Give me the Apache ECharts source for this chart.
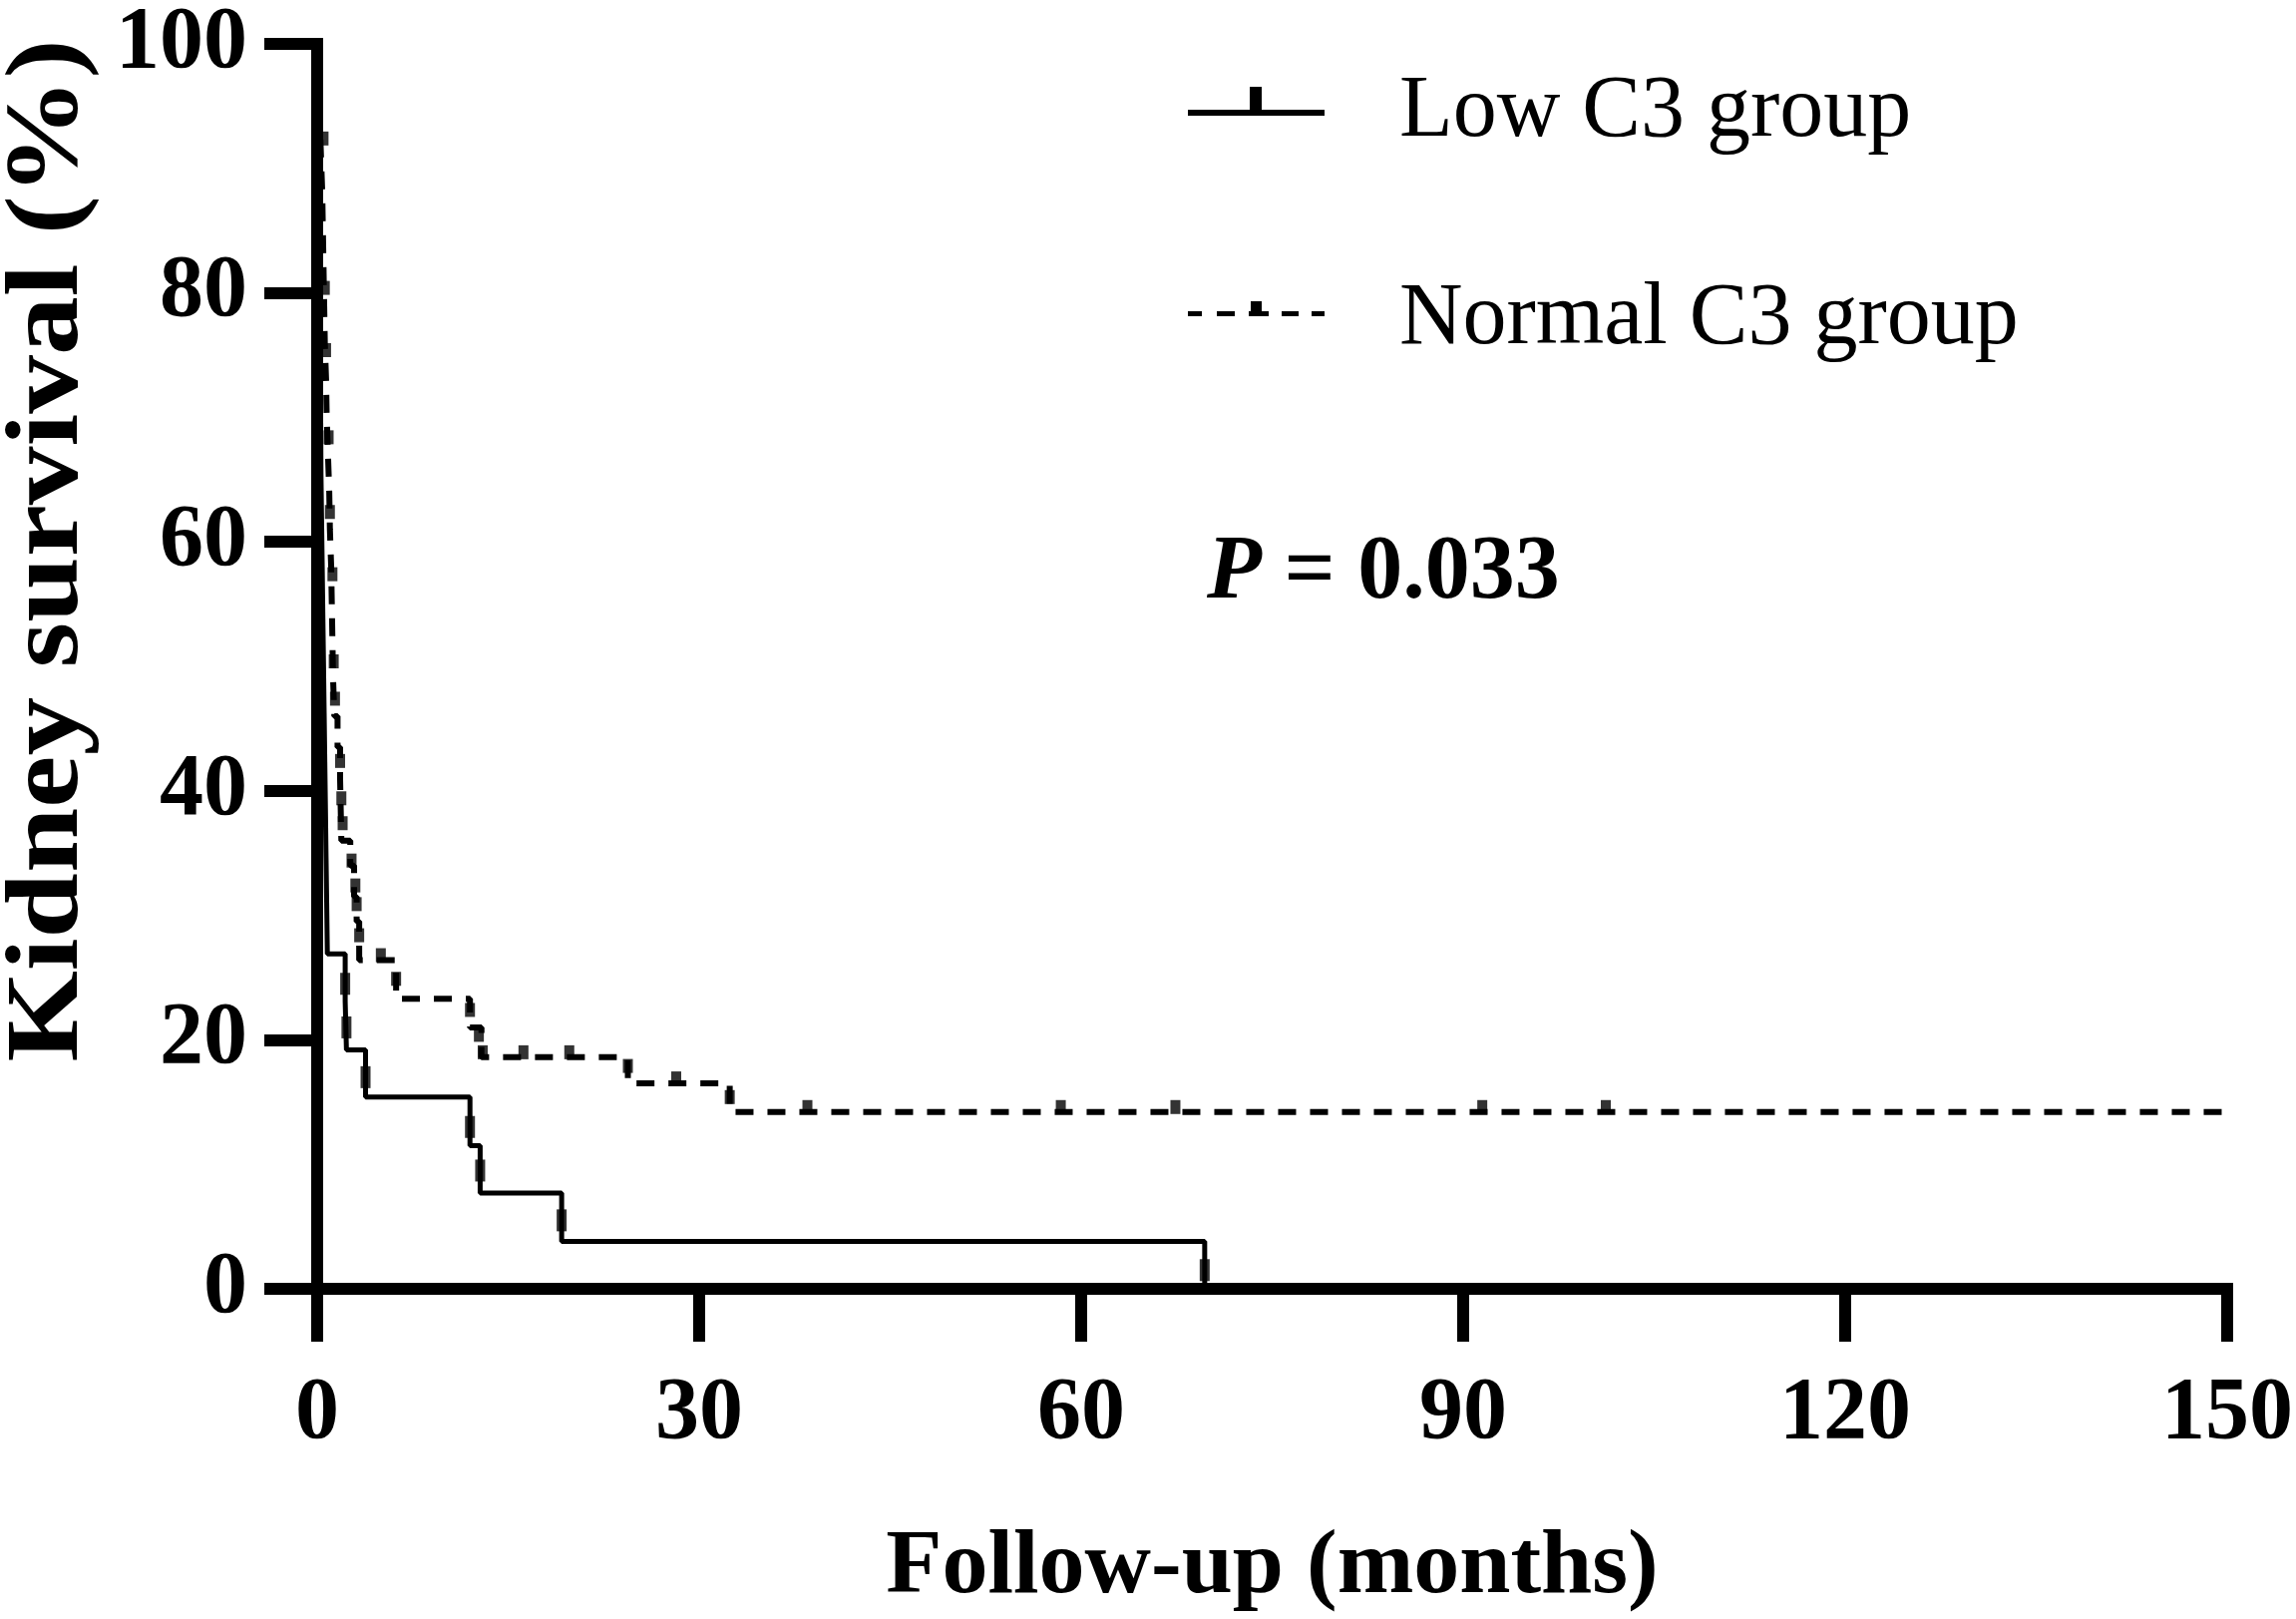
<!DOCTYPE html>
<html>
<head>
<meta charset="utf-8">
<title>Kidney survival</title>
<script src="https://cdn.jsdelivr.net/npm/echarts@6.0.0/dist/echarts.min.js"></script>
<style>
  html, body { margin: 0; padding: 0; background: #fff; }
  #chart { width: 2302px; height: 1623px; }
</style>
</head>
<body>
<div id="chart"></div>
<script>
// Kaplan-Meier steps (months, % surviving)
const lowTime = [0, 0.05, 0.1, 0.12, 0.15, 0.18, 0.2, 0.25, 0.28, 0.3, 0.35, 0.4, 0.45, 0.5, 0.55, 0.6, 0.65, 0.7, 0.75, 0.8, 2.2, 2.3, 3.8, 12.0, 12.8, 19.2, 69.7];
const lowSurv = [100, 96.2, 92.3, 88.5, 84.6, 80.8, 76.9, 73.1, 69.2, 65.4, 61.5, 57.7, 53.8, 50.0, 46.2, 42.3, 38.5, 34.6, 30.8, 26.9, 23.1, 19.2, 15.4, 11.5, 7.7, 3.8, 0];

const normalTime = [0, 0.1, 0.2, 0.3, 0.4, 0.45, 0.5, 0.55, 0.6, 0.7, 0.75, 0.85, 0.95, 1.0, 1.1, 1.15, 1.2, 1.25, 1.35, 1.6, 1.8, 1.85, 1.9, 2.6, 2.9, 3.1, 3.3, 6.2, 12.0, 12.9, 24.4, 32.4, 150];
const normalSurv = [100, 97, 94, 91, 88, 85, 82, 79, 76, 73, 70, 67, 64, 61, 58, 55, 52, 49, 46, 43.5, 41, 38.5, 36, 34, 31.5, 29.5, 26.4, 23.3, 21.0, 18.6, 16.5, 14.2, 14.2];

// censored observations (tick marks)
const lowCensorTime = [2.2, 2.3, 3.8, 12.0, 12.8, 19.2, 69.7];
const lowCensorSurv = [24.5, 21.0, 17.0, 13.0, 9.5, 5.5, 1.5];

const normalCensorTime = [0.5, 0.6, 0.7, 0.9, 1.0, 1.2, 1.3, 1.4, 1.8, 1.9, 2.0, 2.7, 3.0, 3.1, 3.3, 5.0, 6.2, 12.0, 12.7, 13.0, 16.2, 19.8, 24.4, 28.2, 32.4, 38.5, 58.4, 67.4, 91.5, 101.2];
const normalCensorSurv = [92, 80, 75, 68, 62, 57, 50, 47, 42, 39, 37, 34, 32, 30.5, 28, 26.4, 24.5, 22, 20, 18.6, 18.6, 18.6, 17.5, 16.5, 15, 14.2, 14.2, 14.2, 14.2, 14.2];

const groupNames = ['Low C3 group', 'Normal C3 group'];
const pText = '0.033';

const zip = (a, b) => a.map((v, i) => [v, b[i]]);
const serif = 'Liberation Serif, Times New Roman, serif';

// legend samples: line with a censor tick; a near-invisible dot below keeps the line centred
const lowIcon = 'path://M0,23h137v6h-137z M62,0h12v23h-12z M68,51.9h0.1v0.1h-0.1z';
const normalIcon = 'path://M0,23h14v5h-14z M29,23h18v5h-18z M61,23h20v5h-20z M63,13h11v10h-11z M94,23h17v5h-17z M124,23h13v5h-13z M68,50.9h0.1v0.1h-0.1z';

const chart = echarts.init(document.getElementById('chart'), null, { renderer: 'canvas' });

chart.setOption({
  backgroundColor: '#fff',
  animation: false,
  grid: { left: 318, right: 65, top: 29, bottom: 313, containLabel: false },
  title: {
    text: '{i|P}{b| = ' + pText + '}',
    left: 1205,
    top: 526,
    textStyle: {
      rich: {
        i: { fontFamily: serif, fontSize: 90, fontWeight: 'bold', fontStyle: 'italic', color: '#000' },
        b: { fontFamily: serif, fontSize: 90, fontWeight: 'bold', color: '#000' }
      }
    }
  },
  legend: {
    orient: 'vertical',
    left: 1186,
    top: 60,
    selectedMode: false,
    itemGap: 112,
    itemWidth: 137,
    itemHeight: 52,
    data: [
      { name: groupNames[0], icon: lowIcon },
      { name: groupNames[1], icon: normalIcon }
    ],
    itemStyle: { color: '#000', borderWidth: 0 },
    textStyle: { fontFamily: serif, fontSize: 88, color: '#000', lineHeight: 96, padding: [0, 0, 0, 70] }
  },
  graphic: [{
    type: 'text',
    x: 50,
    y: 552,
    rotation: Math.PI / 2,
    scaleX: 1.13,
    style: {
      text: 'Kidney survival (%)',
      font: 'bold 104px ' + serif,
      fill: '#000',
      textAlign: 'center',
      textVerticalAlign: 'middle'
    }
  }],
  xAxis: {
    type: 'value',
    min: 0,
    max: 150,
    interval: 30,
    name: 'Follow-up (months)',
    nameLocation: 'middle',
    nameGap: 234,
    nameTextStyle: { fontFamily: serif, fontSize: 92, fontWeight: 'bold', color: '#000' },
    axisLine: { show: true, lineStyle: { color: '#000', width: 12, cap: 'square' } },
    axisTick: { show: true, inside: false, length: 53, lineStyle: { color: '#000', width: 12 } },
    axisLabel: { fontFamily: serif, fontSize: 88, fontWeight: 'bold', color: '#000', margin: 82 },
    splitLine: { show: false }
  },
  yAxis: {
    type: 'value',
    min: 0,
    max: 100,
    interval: 20,
    axisLine: { show: true, lineStyle: { color: '#000', width: 12, cap: 'square' } },
    axisTick: { show: true, inside: false, length: 53, lineStyle: { color: '#000', width: 12 } },
    axisLabel: { fontFamily: serif, fontSize: 88, fontWeight: 'bold', color: '#000', margin: 70 },
    splitLine: { show: false }
  },
  series: [
    {
      name: groupNames[0],
      type: 'line',
      step: 'end',
      symbol: 'none',
      data: zip(lowTime, lowSurv),
      lineStyle: { color: '#000', width: 5 },
      itemStyle: { color: '#000' },
      z: 3
    },
    {
      name: groupNames[1],
      type: 'line',
      step: 'end',
      symbol: 'none',
      data: zip(normalTime, normalSurv),
      lineStyle: { color: '#000', width: 6, type: [18, 14] },
      itemStyle: { color: '#000' },
      z: 3
    },
    {
      name: 'low-censored',
      type: 'scatter',
      symbol: 'rect',
      symbolSize: [10, 22],
      data: zip(lowCensorTime, lowCensorSurv),
      itemStyle: { color: '#000' },
      z: 4
    },
    {
      name: 'normal-censored',
      type: 'scatter',
      symbol: 'rect',
      symbolSize: [10, 14],
      symbolOffset: [0, -5],
      data: zip(normalCensorTime, normalCensorSurv),
      itemStyle: { color: '#000' },
      z: 4
    }
  ]
});
</script>
</body>
</html>
